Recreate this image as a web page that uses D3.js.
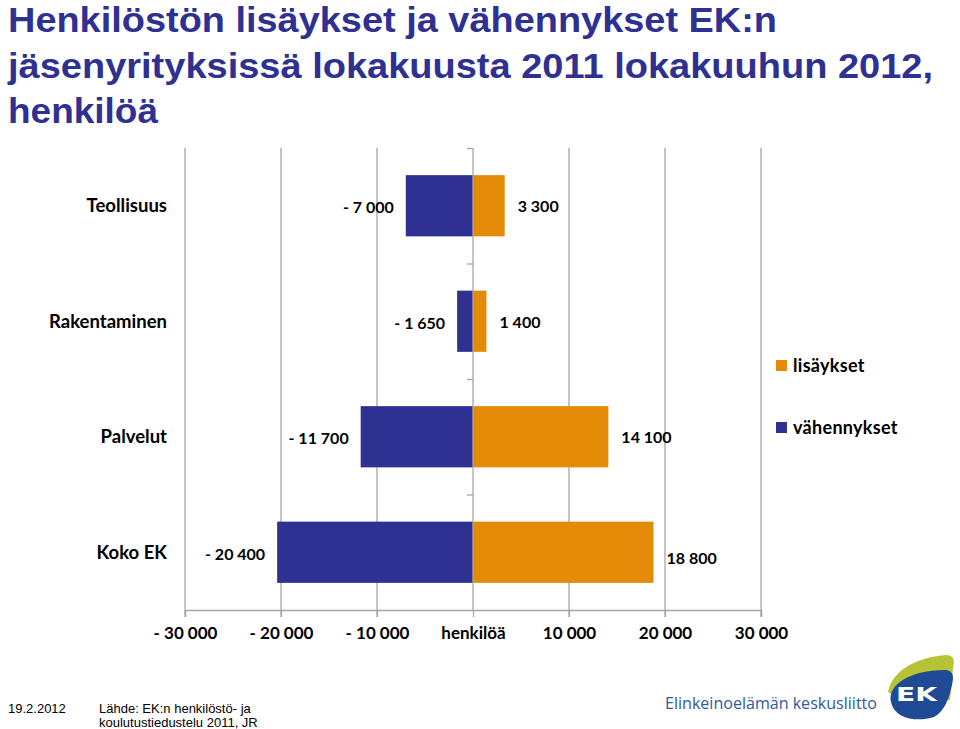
<!DOCTYPE html>
<html>
<head>
<meta charset="utf-8">
<script src="https://cdn.jsdelivr.net/npm/d3@7"></script>
<style>
  body { margin: 0; background: #fff; }
  svg { display: block; }
</style>
</head>
<body>
<svg id="svg" width="960" height="729"></svg>
<script>
// data
var categories = ["Teollisuus", "Rakentaminen", "Palvelut", "Koko EK"];
var lisaykset = [3300, 1400, 14100, 18800];
var vahennykset = [-7000, -1650, -11700, -20400];
var tickValues = [-30000, -20000, -10000, 0, 10000, 20000, 30000];
var seriesNames = ["lisäykset", "vähennykset"];
var titleLines = ["Henkilöstön lisäykset ja vähennykset EK:n",
    "jäsenyrityksissä lokakuusta 2011 lokakuuhun 2012,",
    "henkilöä"];

var blue = "#2e3192";
var orange = "#e38b07";
var labelFont = "Lato, 'Open Sans', sans-serif";

var svg = d3.select("svg");

// title
var titleLen = [769, 925, 150];
svg.append("g").selectAll("text")
    .data(titleLines)
    .enter()
    .append("text")
    .attr("x", 8)
    .attr("y", function (d, i) { return 32 + i * 45.5; })
    .attr("textLength", function (d, i) { return titleLen[i]; })
    .attr("lengthAdjust", "spacingAndGlyphs")
    .style("font-family", "'Liberation Sans', Arial, sans-serif")
    .style("font-weight", "bold")
    .style("font-size", "35px")
    .style("fill", blue)
    .text(function (d) { return d; });

// scales
var x = d3.scaleLinear().domain([-30000, 30000]).range([185, 761]);
var y = d3.scaleBand().domain(categories).range([148, 610]).paddingInner(0.47).paddingOuter(0.235);
var yb = d3.scaleBand().domain(categories).range([148, 610]);

var locale = d3.formatLocale({ decimal: ",", thousands: " ", grouping: [3], currency: ["", ""] });
var fmt = locale.format(",");
function fmtVal(v) { return v < 0 ? "- " + fmt(-v) : fmt(v); }

// vertical gridlines
svg.append("g").selectAll("line")
    .data(tickValues.filter(function (d) { return d !== 0; }))
    .enter()
    .append("line")
    .attr("x1", function (d) { return x(d); })
    .attr("x2", function (d) { return x(d); })
    .attr("y1", 148)
    .attr("y2", 617)
    .style("stroke", "#a6a6a6")
    .style("stroke-width", 1.3);

// bottom axis
var xAxis = d3.axisBottom(x)
    .tickValues(tickValues)
    .tickSize(7)
    .tickFormat(function (d) { return d === 0 ? "henkilöä" : fmtVal(d); });
var ax = svg.append("g")
    .attr("transform", "translate(0,610)")
    .call(xAxis);
ax.select(".domain").style("stroke", "#a6a6a6").style("stroke-width", 1.3);
ax.selectAll(".tick line").style("stroke", "#a6a6a6").style("stroke-width", 1.3);
ax.selectAll(".tick text")
    .attr("y", 17)
    .style("font-family", labelFont)
    .style("font-weight", "bold")
    .style("font-size", "17px")
    .style("fill", "#000");

// bars
var bars = svg.append("g");
bars.selectAll("rect.neg")
    .data(vahennykset)
    .enter()
    .append("rect")
    .attr("class", "neg")
    .attr("x", function (d) { return x(d); })
    .attr("y", function (d, i) { return y(categories[i]); })
    .attr("width", function (d) { return x(0) - x(d); })
    .attr("height", y.bandwidth())
    .attr("fill", blue);
bars.selectAll("rect.pos")
    .data(lisaykset)
    .enter()
    .append("rect")
    .attr("class", "pos")
    .attr("x", x(0))
    .attr("y", function (d, i) { return y(categories[i]); })
    .attr("width", function (d) { return x(d) - x(0); })
    .attr("height", y.bandwidth())
    .attr("fill", orange);

// zero line with category ticks
svg.append("line")
    .attr("x1", x(0)).attr("x2", x(0))
    .attr("y1", 148).attr("y2", 610)
    .style("stroke", "#a6a6a6").style("stroke-width", 1.3);
svg.append("g").selectAll("line")
    .data(categories)
    .enter()
    .append("line")
    .attr("x1", x(0) - 6).attr("x2", x(0))
    .attr("y1", function (d) { return yb(d) + 0.5; })
    .attr("y2", function (d) { return yb(d) + 0.5; })
    .style("stroke", "#a6a6a6").style("stroke-width", 1.3);

// category labels
svg.append("g").selectAll("text")
    .data(categories)
    .enter()
    .append("text")
    .attr("x", 167)
    .attr("y", function (d) { return yb(d) + yb.bandwidth() / 2; })
    .attr("dy", "0.35em")
    .attr("text-anchor", "end")
    .style("font-family", labelFont)
    .style("font-weight", "bold")
    .style("font-size", "18.5px")
    .text(function (d) { return d; });

// value labels
svg.append("g").selectAll("text")
    .data(vahennykset)
    .enter()
    .append("text")
    .attr("x", function (d) { return x(d) - 12; })
    .attr("y", function (d, i) { return yb(categories[i]) + yb.bandwidth() / 2 + 2; })
    .attr("dy", "0.35em")
    .attr("text-anchor", "end")
    .style("font-family", labelFont)
    .style("font-weight", "bold")
    .style("font-size", "16px")
    .text(function (d) { return fmtVal(d); });
svg.append("g").selectAll("text")
    .data(lisaykset)
    .enter()
    .append("text")
    .attr("x", function (d) { return x(d) + 13; })
    .attr("y", function (d, i) { return yb(categories[i]) + yb.bandwidth() / 2 + (i === 3 ? 6 : 1); })
    .attr("dy", "0.35em")
    .attr("text-anchor", "start")
    .style("font-family", labelFont)
    .style("font-weight", "bold")
    .style("font-size", "16px")
    .text(function (d) { return fmtVal(d); });

// legend
var legend = svg.append("g").selectAll("g")
    .data(seriesNames)
    .enter()
    .append("g")
    .attr("transform", function (d, i) { return "translate(776," + (360 + i * 62) + ")"; });
legend.append("rect")
    .attr("width", 11).attr("height", 11)
    .attr("fill", function (d, i) { return i === 0 ? orange : blue; });
legend.append("text")
    .attr("x", 17).attr("y", 6)
    .attr("dy", "0.35em")
    .style("font-family", labelFont)
    .style("font-weight", "bold")
    .style("font-size", "18px")
    .style("letter-spacing", "0.3px")
    .text(function (d) { return d; });

// footer
var foot = svg.append("g")
    .style("font-family", "'Liberation Sans', Arial, sans-serif")
    .style("font-size", "13px")
    .style("fill", "#000");
foot.append("text").attr("x", 8).attr("y", 713).text("19.2.2012");
foot.append("text").attr("x", 99).attr("y", 713).text("Lähde: EK:n henkilöstö- ja");
foot.append("text").attr("x", 99).attr("y", 727).text("koulutustiedustelu 2011, JR");

// logo
svg.append("text")
    .attr("x", 665).attr("y", 709)
    .attr("textLength", 212)
    .attr("lengthAdjust", "spacingAndGlyphs")
    .style("font-family", "'Open Sans', sans-serif")
    .style("font-size", "17px")
    .style("fill", "#2f5a9e")
    .text("Elinkeinoelämän keskusliitto");
svg.append("path")
    .attr("d", "M888,692 C893,668 920,657 946,655 C954,655 955,660 953,668 L950,700 L900,700 Z")
    .attr("fill", "#b7c337");
svg.append("path")
    .attr("d", "M891,702 C887,684 912,670 944,670 C954,670 954,677 952,685 C949,699 944,712 934,717 C918,722 895,720 891,702 Z")
    .attr("fill", "#1f4a96");
svg.append("text")
    .attr("x", 896).attr("y", 701)
    .attr("textLength", 41)
    .attr("lengthAdjust", "spacingAndGlyphs")
    .style("font-family", "'DejaVu Sans', sans-serif")
    .style("font-weight", "bold")
    .style("font-size", "20px")
    .style("fill", "#fff")
    .text("EK");
</script>
</body>
</html>
